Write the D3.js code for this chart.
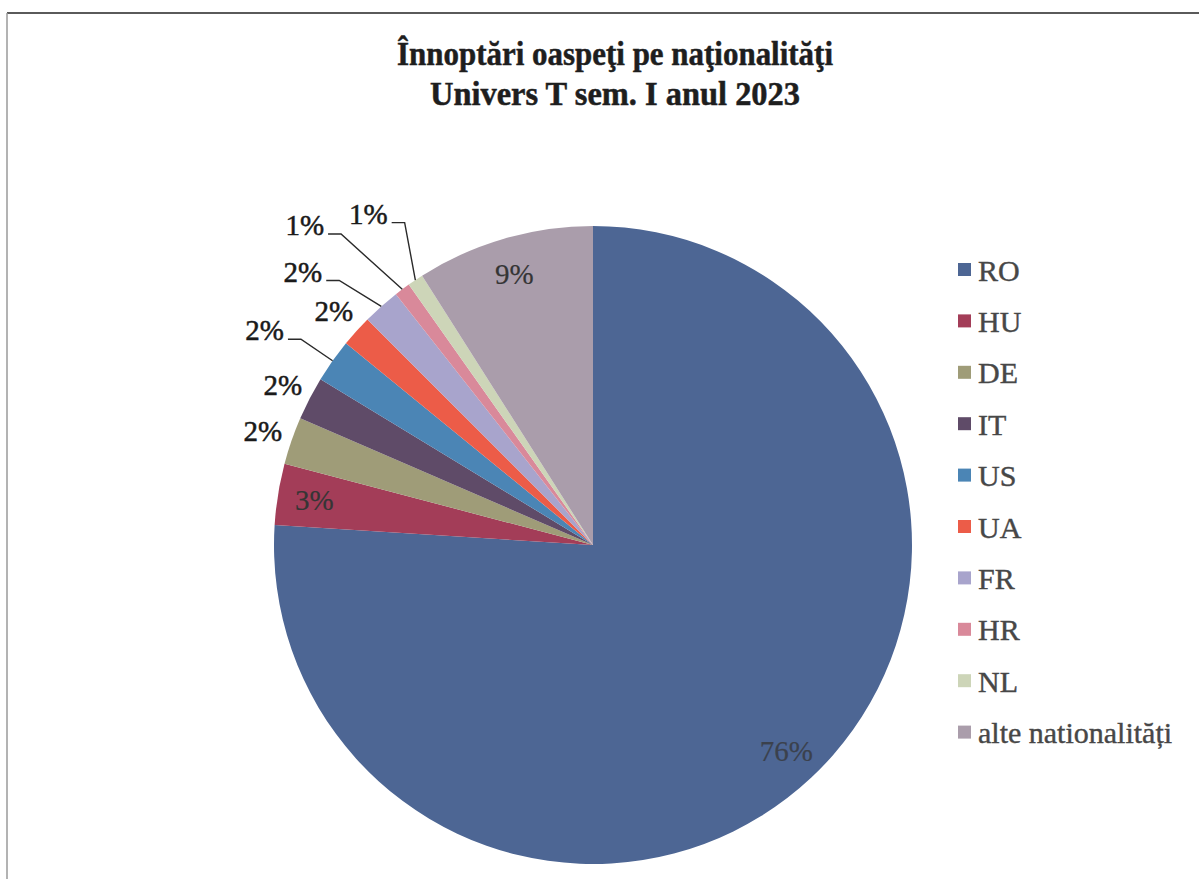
<!DOCTYPE html>
<html>
<head>
<meta charset="utf-8">
<script src="https://cdn.jsdelivr.net/npm/d3@7"></script>
<style>
  html, body { margin: 0; padding: 0; background: #ffffff; }
  svg { display: block; }
</style>
</head>
<body>
<svg id="chart" width="1199" height="879"></svg>
<script>
// ---- data ----
const categories = ["RO", "HU", "DE", "IT", "US", "UA", "FR", "HR", "NL", "alte nationalități"];
const shares = [76.0, 3.1, 2.4, 2.2, 2.2, 1.6, 1.9, 0.8, 0.8, 9.0];
const colors = ["#4d6694", "#a33d58", "#9f9c78", "#5f4b68", "#4b85b5", "#ec5c48", "#a8a4cc", "#d9899a", "#cdd5b8", "#aa9dab"];
const titleLines = ["Înnoptări oaspeţi pe naţionalităţi", "Univers T sem. I anul 2023"];

// label placement style: where each percentage label sits
// mode: "in" inside slice, "out" just outside, "lead" outside with leader line
const labelMode = ["in", "in", "out", "out", "lead", "out", "lead", "lead", "lead", "in"];
const leadRadius = {4: 1.23, 6: 1.25, 7: 1.35, 8: 1.255};
const leadShiftDeg = {4: -2.1, 6: -5.1, 7: -5.3, 8: -0.3};

// ---- layout ----
const svg = d3.select("#chart");
const cx = 593, cy = 545, R = 319;

// frame
svg.append("line").attr("x1", 7).attr("y1", 13).attr("x2", 1199).attr("y2", 13)
  .attr("stroke", "#5a5a5a").attr("stroke-width", 2);
svg.append("line").attr("x1", 7).attr("y1", 13).attr("x2", 7).attr("y2", 879)
  .attr("stroke", "#9a9a9a").attr("stroke-width", 1.5);

// title
const titleWidths = [436, 370];
svg.selectAll("text.title").data(titleLines).join("text")
  .attr("class", "title")
  .attr("x", 615).attr("y", (d, i) => 65 + i * 40)
  .attr("text-anchor", "middle")
  .attr("font-family", "'Liberation Serif', 'Times New Roman', serif")
  .attr("font-weight", "bold")
  .attr("font-size", 34)
  .attr("fill", "#1e1e1e")
  .attr("stroke", "#1e1e1e").attr("stroke-width", 0.5)
  .attr("textLength", (d, i) => titleWidths[i])
  .attr("lengthAdjust", "spacingAndGlyphs")
  .text(d => d);

const data = categories.map((c, i) => ({name: c, value: shares[i], color: colors[i], idx: i}));
const total = d3.sum(shares);

const pie = d3.pie().value(d => d.value).sort(null).startAngle(0).endAngle(2 * Math.PI);
const arcs = pie(data);
const arc = d3.arc().innerRadius(0).outerRadius(R);

const g = svg.append("g").attr("transform", `translate(${cx},${cy})`);
g.selectAll("path.slice").data(arcs).join("path")
  .attr("class", "slice")
  .attr("d", arc)
  .attr("fill", d => d.data.color);

const polar = (a, r) => [r * Math.sin(a), -r * Math.cos(a)];
const pctText = d => Math.round(d.data.value / total * 100) + "%";

const fontFam = "'Liberation Serif', 'Times New Roman', serif";

arcs.forEach(d => {
  const i = d.data.idx;
  const mid = (d.startAngle + d.endAngle) / 2;
  const mode = labelMode[i];
  let p, color;
  if (mode === "in") {
    p = polar(mid, R * 0.885);
    color = "#353535";
  } else if (mode === "out") {
    p = polar(mid, R * 1.095);
    color = "#1a1a1a";
  } else {
    const a = mid + leadShiftDeg[i] * Math.PI / 180;
    p = polar(a, R * leadRadius[i]);
    color = "#1a1a1a";
  }
  const t = g.append("text")
    .attr("x", p[0]).attr("y", p[1])
    .attr("dy", "0.35em")
    .attr("text-anchor", "middle")
    .attr("font-family", fontFam)
    .attr("font-size", 29)
    .attr("fill", color)
    .attr("stroke", color).attr("stroke-width", mode === "in" ? 0.2 : 0.5)
    .attr("opacity", i === 0 ? 0.75 : 1)
    .text(pctText(d));
  if (mode === "lead") {
    const w = t.node().getComputedTextLength();
    const x0 = p[0] + w / 2 + 4, y0 = p[1] + 9;
    const e = polar(mid, R);
    g.append("polyline")
      .attr("points", `${x0},${y0} ${x0 + 13},${y0} ${e[0]},${e[1]}`)
      .attr("fill", "none")
      .attr("stroke", "#2a2a2a")
      .attr("stroke-width", 1.4);
  }
});

// legend
const lg = svg.append("g").attr("transform", "translate(958,270)");
const items = lg.selectAll("g.item").data(data).join("g")
  .attr("class", "item")
  .attr("transform", (d, i) => `translate(0,${i * 51.4})`);
items.append("rect")
  .attr("x", 0).attr("y", -7).attr("width", 13).attr("height", 13)
  .attr("fill", d => d.color);
items.append("text")
  .attr("x", 20).attr("y", 0).attr("dy", "0.35em")
  .attr("font-family", fontFam)
  .attr("font-size", 30)
  .attr("fill", "#474747")
  .attr("stroke", "#474747").attr("stroke-width", 0.4)
  .text(d => d.name);
</script>
</body>
</html>
